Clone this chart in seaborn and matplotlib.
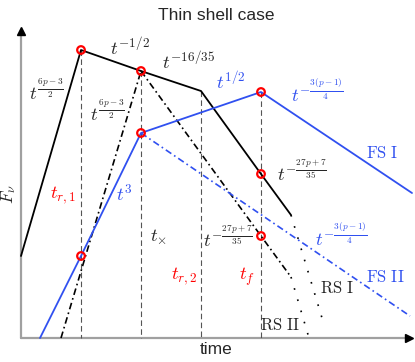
import matplotlib
matplotlib.use("Agg")
import matplotlib.pyplot as plt
import seaborn as sns

sns.set_theme(style="white")
plt.rcParams['font.family'] = ['Liberation Sans', 'DejaVu Sans']
plt.rcParams['mathtext.fontset'] = 'cm'

# ---- schematic data (canvas coordinates, y grows downward) ----
black_x = [21, 81, 141, 201, 261, 291]
black_y = [256, 50, 71, 91, 174, 215]
rs1_x = [291, 322]
rs1_y = [215, 318]
rise_dd_x = [61, 141]
rise_dd_y = [338, 71]
fall_dd_x = [141, 261, 291]
fall_dd_y = [71, 236, 277]
rs2_x = [291, 309]
rs2_y = [277, 338]
blue_x = [40, 81, 141, 261, 412]
blue_y = [338, 256, 133, 92, 193]
blue_dd_x = [141, 410]
blue_dd_y = [133, 316]
vline_x = [81, 141, 201, 261]
vline_top = [50, 71, 91, 92]
axis_y0 = 338
circ_x = [81, 141, 141, 261, 261, 81, 261]
circ_y = [50, 71, 133, 92, 174, 256, 236]

BLUE = '#3050f0'

fig = plt.figure(figsize=(4.15, 3.62), dpi=100)
ax = fig.add_axes([0, 0, 1, 1])
ax.set_xlim(0, 415)
ax.set_ylim(362, 0)
ax.axis('off')

# axes arrows
ax.plot([21, 21], [axis_y0, 34], color='#a0a0a0', lw=1.6, zorder=1)
ax.plot([21, 407], [axis_y0, axis_y0], color='#a0a0a0', lw=1.6, zorder=1)
ax.plot([21], [31], marker='^', color='black', ms=6, zorder=2)
ax.plot([409], [axis_y0], marker='>', color='black', ms=6, zorder=2)

# vertical dashed guides
for xv, yt in zip(vline_x, vline_top):
    sns.lineplot(x=[xv, xv], y=[yt, axis_y0], ax=ax, color='#555555', lw=0.8,
                 linestyle=(0, (5, 3)), sort=False, estimator=None, zorder=2)

def line(x, y, **kw):
    sns.lineplot(x=x, y=y, ax=ax, sort=False, estimator=None, **kw)

line(black_x, black_y, color='black', lw=1.3, zorder=3)
line(rs1_x, rs1_y, color='black', lw=1.2, linestyle=(0, (1, 6)), zorder=3)
line(rise_dd_x, rise_dd_y, color='black', lw=1.2, linestyle=(0, (4, 2, 1, 2)), zorder=3)
line(fall_dd_x, fall_dd_y, color='black', lw=1.2, linestyle=(0, (4, 2, 1, 2)), zorder=3)
line(rs2_x, rs2_y, color='black', lw=1.2, linestyle=(0, (1, 6)), zorder=3)
line(blue_x, blue_y, color=BLUE, lw=1.3, zorder=4)
line(blue_dd_x, blue_dd_y, color=BLUE, lw=1.2, linestyle=(0, (4, 2, 1, 2)), zorder=4)

sns.scatterplot(x=circ_x, y=circ_y, ax=ax, s=30, marker='o', facecolor='none',
                edgecolor='red', linewidth=1.6, zorder=5)

# texts
ax.text(216, 15, 'Thin shell case', ha='center', va='center', fontsize=12.5)
ax.text(216, 350, 'time', ha='center', va='center', fontsize=12.5)
ax.text(9, 194, r'$F_\nu$', ha='center', va='center', rotation=90, fontsize=12.5)

M = 13.5
ax.text(46, 91, r'$t^{\frac{6p-3}{2}}$', ha='center', va='center', fontsize=M)
ax.text(130, 48, r'$t^{-1/2}$', ha='center', va='center', fontsize=M)
ax.text(189, 62, r'$t^{-16/35}$', ha='center', va='center', fontsize=M)
ax.text(107, 112, r'$t^{\frac{6p-3}{2}}$', ha='center', va='center', fontsize=M)
ax.text(231, 82, r'$t^{1/2}$', ha='center', va='center', fontsize=M, color=BLUE)
ax.text(317, 92, r'$t^{-\frac{3(p-1)}{4}}$', ha='center', va='center', fontsize=M, color=BLUE)
ax.text(382, 153, r'$\mathrm{FS\ I}$', ha='center', va='center', fontsize=12, color=BLUE)
ax.text(302, 172, r'$t^{-\frac{27p+7}{35}}$', ha='center', va='center', fontsize=M)
ax.text(63, 195, r'$t_{r,1}$', ha='center', va='center', fontsize=M, color='red')
ax.text(124, 195, r'$t^{3}$', ha='center', va='center', fontsize=M, color=BLUE)
ax.text(159, 237, r'$t_{\times}$', ha='center', va='center', fontsize=M)
ax.text(228, 238, r'$t^{-\frac{27p+7}{35}}$', ha='center', va='center', fontsize=M)
ax.text(184, 276, r'$t_{r,2}$', ha='center', va='center', fontsize=M, color='red')
ax.text(247, 277, r'$t_{f}$', ha='center', va='center', fontsize=M, color='red')
ax.text(341, 236, r'$t^{-\frac{3(p-1)}{4}}$', ha='center', va='center', fontsize=M, color=BLUE)
ax.text(385, 277, r'$\mathrm{FS\ II}$', ha='center', va='center', fontsize=12, color=BLUE)
ax.text(337, 288, r'$\mathrm{RS\ I}$', ha='center', va='center', fontsize=12)
ax.text(280, 325, r'$\mathrm{RS\ II}$', ha='center', va='center', fontsize=12)

fig.savefig('out.png', dpi=100)
